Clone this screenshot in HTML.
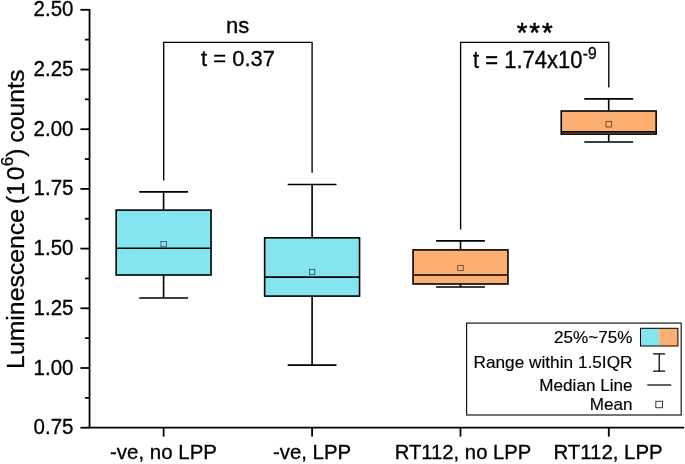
<!DOCTYPE html>
<html><head><meta charset="utf-8"><title>Luminescence box plot</title>
<style>html,body{margin:0;padding:0;background:#fff}svg{display:block}text{font-family:"Liberation Sans", Arial, sans-serif;fill:#000;stroke:#000;stroke-width:0.3px}</style>
</head><body>
<svg width="685" height="464" viewBox="0 0 685 464">
<rect x="0" y="0" width="685" height="464" fill="#fff"/>
<g stroke="#000" stroke-width="1.8" fill="none" stroke-linecap="butt">
<path d="M89.55 8.9 V427.7 H684.2"/>
<path d="M80.4 9.8 H89.55"/>
<path d="M80.4 69.5 H89.55"/>
<path d="M80.4 129.2 H89.55"/>
<path d="M80.4 188.9 H89.55"/>
<path d="M80.4 248.6 H89.55"/>
<path d="M80.4 308.3 H89.55"/>
<path d="M80.4 368.0 H89.55"/>
<path d="M80.4 427.7 H89.55"/>
<path d="M84.9 39.65 H89.55"/>
<path d="M84.9 99.35 H89.55"/>
<path d="M84.9 159.05 H89.55"/>
<path d="M84.9 218.75 H89.55"/>
<path d="M84.9 278.45 H89.55"/>
<path d="M84.9 338.15 H89.55"/>
<path d="M84.9 397.85 H89.55"/>
<path d="M163.6 427.7 V436.6"/>
<path d="M312.1 427.7 V436.6"/>
<path d="M460.5 427.7 V436.6"/>
<path d="M608.8 427.7 V436.6"/>
</g>
<text transform="translate(73.5 16.35) scale(1 1.04)" font-size="20.5" text-anchor="end">2.50</text>
<text transform="translate(73.5 76.05) scale(1 1.04)" font-size="20.5" text-anchor="end">2.25</text>
<text transform="translate(73.5 135.75) scale(1 1.04)" font-size="20.5" text-anchor="end">2.00</text>
<text transform="translate(73.5 195.45) scale(1 1.04)" font-size="20.5" text-anchor="end">1.75</text>
<text transform="translate(73.5 255.15) scale(1 1.04)" font-size="20.5" text-anchor="end">1.50</text>
<text transform="translate(73.5 314.85) scale(1 1.04)" font-size="20.5" text-anchor="end">1.25</text>
<text transform="translate(73.5 374.55) scale(1 1.04)" font-size="20.5" text-anchor="end">1.00</text>
<text transform="translate(73.5 434.25) scale(1 1.04)" font-size="20.5" text-anchor="end">0.75</text>
<text transform="translate(163.5 458.8) scale(1 1.01)" font-size="20.5" text-anchor="middle">-ve, no LPP</text>
<text transform="translate(312.0 458.8) scale(1 1.01)" font-size="20.4" text-anchor="middle">-ve, LPP</text>
<text transform="translate(463.0 458.8) scale(1 1.01)" font-size="20.25" text-anchor="middle">RT112, no LPP</text>
<text transform="translate(608.0 458.8) scale(1 1.01)" font-size="20.4" text-anchor="middle">RT112, LPP</text>
<text transform="translate(23.8 368.9) rotate(-90)" font-size="24.8" text-anchor="start">Luminescence <tspan dx="-1.8">(</tspan>1<tspan dx="1.6">0</tspan><tspan font-size="17" dy="-10.5" dx="0.3">6</tspan><tspan dy="10.5">)</tspan><tspan dx="-1.2"> counts</tspan></text>
<g stroke="#000" stroke-width="1.6" fill="none">
<path d="M163.6 191.9 V210.1 M163.6 275.0 V298.0"/>
<path d="M139.2 191.9 H188.0 M139.2 298.0 H188.0"/>
<rect x="116.15" y="210.1" width="94.9" height="64.9" fill="#84E4F0"/>
<path d="M116.15 248.2 H211.05"/>
</g>
<rect x="160.9" y="241.4" width="5.4" height="5.4" fill="none" stroke="#000" stroke-opacity="0.75" stroke-width="0.7"/>
<g stroke="#000" stroke-width="1.6" fill="none">
<path d="M312.1 184.5 V237.8 M312.1 296.1 V365.1"/>
<path d="M287.70000000000005 184.5 H336.5 M287.70000000000005 365.1 H336.5"/>
<rect x="264.65" y="237.8" width="94.9" height="58.3" fill="#84E4F0"/>
<path d="M264.65 277.1 H359.55"/>
</g>
<rect x="309.4" y="269.3" width="5.4" height="5.4" fill="none" stroke="#000" stroke-opacity="0.75" stroke-width="0.7"/>
<g stroke="#000" stroke-width="1.6" fill="none">
<path d="M460.5 240.9 V249.9 M460.5 284.0 V287.0"/>
<path d="M436.1 240.9 H484.9 M436.1 287.0 H484.9"/>
<rect x="413.05" y="249.9" width="94.9" height="34.1" fill="#FDAF72"/>
<path d="M413.05 275.0 H507.95"/>
</g>
<rect x="457.8" y="265.3" width="5.4" height="5.4" fill="none" stroke="#000" stroke-opacity="0.75" stroke-width="0.7"/>
<g stroke="#000" stroke-width="1.6" fill="none">
<path d="M608.7 98.9 V111.0 M608.7 134.1 V142.0"/>
<path d="M584.3000000000001 98.9 H633.1 M584.3000000000001 142.0 H633.1"/>
<rect x="561.25" y="111.0" width="94.9" height="23.1" fill="#FDAF72"/>
<path d="M561.25 131.9 H656.15"/>
</g>
<rect x="606.0" y="121.6" width="5.4" height="5.4" fill="none" stroke="#000" stroke-opacity="0.75" stroke-width="0.7"/>
<g stroke="#000" stroke-width="1.35" fill="none">
<path d="M163.7 180.4 V42.4 H312.1 V172.8"/>
<path d="M460.6 229.6 V42.4 H608.8 V87.5"/>
</g>
<text transform="translate(237.7 33) scale(1 1)" font-size="22" text-anchor="middle">ns</text>
<text transform="translate(238 66.25) scale(1 1.015)" font-size="22" text-anchor="middle">t = 0.37</text>
<text x="535.7" y="41.8" font-size="27.5" letter-spacing="2" style="stroke-width:0.5px" text-anchor="middle">***</text>
<text transform="translate(473 67.5) scale(1 1.05)" font-size="22" text-anchor="start">t = 1.74x10<tspan font-size="15.6" dy="-8" dx="0.4">-9</tspan></text>
<rect x="466.6" y="323.1" width="214.6" height="91.9" fill="#fff" stroke="#1a1a1a" stroke-width="1.2"/>
<text transform="translate(632.5 343.3) scale(1.07 1)" font-size="16" style="stroke-width:0.15px" text-anchor="end">25%~75%</text>
<text transform="translate(632.5 368.3) scale(1.078 1)" font-size="16" style="stroke-width:0.15px" text-anchor="end">Range within 1.5IQR</text>
<text transform="translate(632.5 390.9) scale(1.07 1)" font-size="16" style="stroke-width:0.15px" text-anchor="end">Median Line</text>
<text transform="translate(632.5 410.2) scale(1.07 1)" font-size="16" style="stroke-width:0.15px" text-anchor="end">Mean</text>
<rect x="640.5" y="328.3" width="18.7" height="17.7" fill="#84E4F0"/>
<rect x="659.2" y="328.3" width="18.7" height="17.7" fill="#FDAF72"/>
<rect x="640.5" y="328.3" width="37.4" height="17.7" fill="none" stroke="#000" stroke-width="1"/>
<path d="M659.2 353.9 V371.2 M653.1 353.9 H665.2 M653.1 371.2 H665.2" stroke="#000" stroke-width="1.25" fill="none"/>
<path d="M647.3 385 H671.2" stroke="#000" stroke-width="1.25" fill="none"/>
<rect x="655.8" y="401.3" width="6.7" height="6.4" fill="none" stroke="#3a3a3a" stroke-width="1"/>
</svg>
</body></html>
